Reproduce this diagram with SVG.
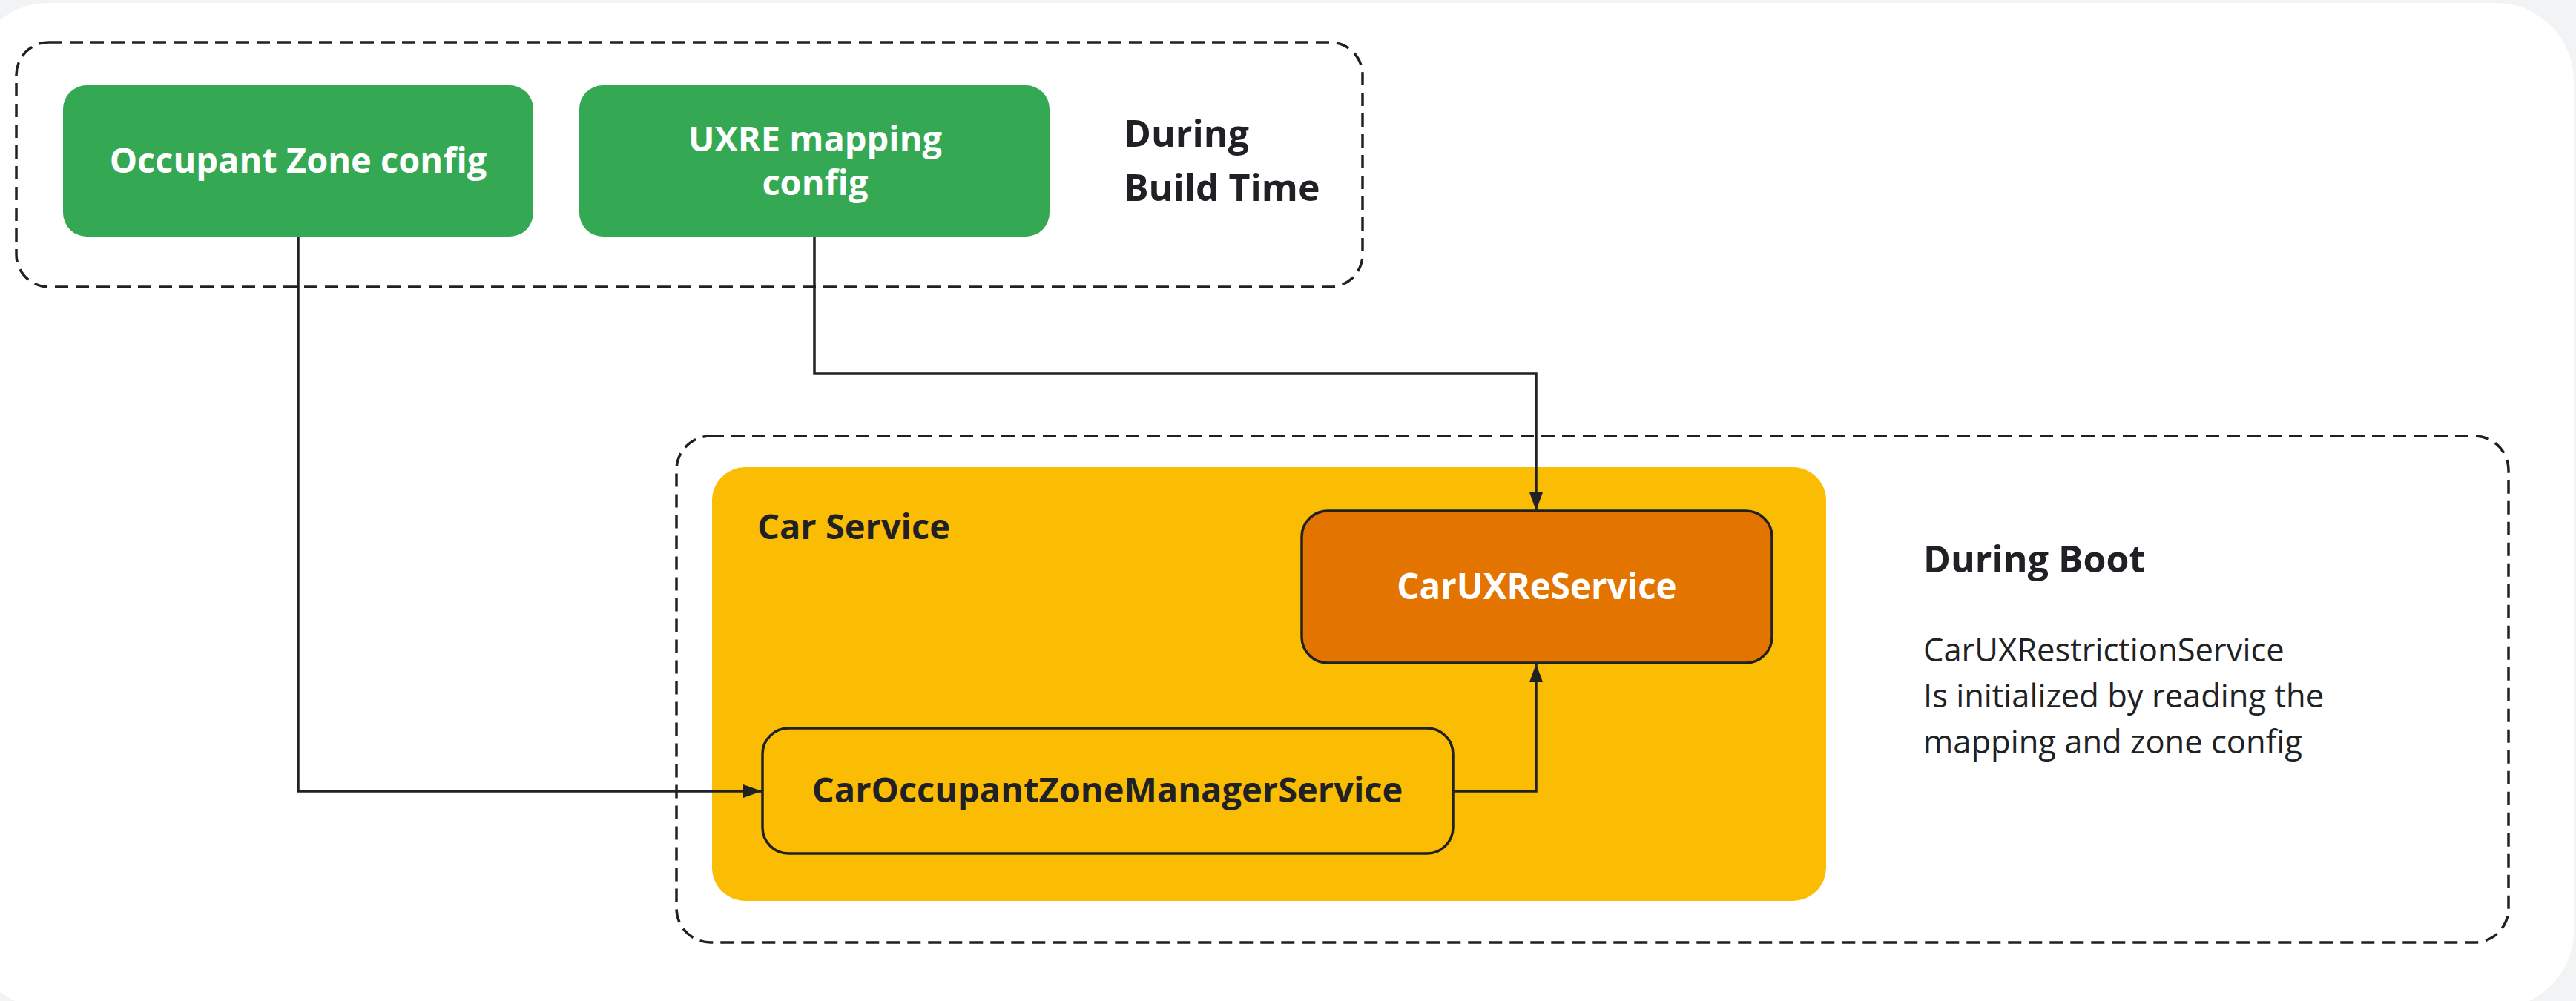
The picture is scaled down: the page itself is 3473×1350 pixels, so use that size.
<svg xmlns="http://www.w3.org/2000/svg" width="3473" height="1350" viewBox="0 0 3473 1350">
  <style>
    .zone { fill: none; stroke: #202124; stroke-width: 3.5; stroke-dasharray: 18 10; }
    .cfg { fill: #34A853; }
    .svc { stroke: #202124; stroke-width: 3.5; }
    .bold { font-family: "Open Sans", "Liberation Sans", sans-serif; font-weight: 700; }
    .reg { font-family: "Open Sans", "Liberation Sans", sans-serif; font-weight: 400; }
    .light { fill: #FFFFFF; }
    .dark { fill: #202124; }
    .wire { fill: none; stroke: #202124; stroke-width: 3.5; }
  </style>
  <defs>
    <marker id="arrow" markerUnits="userSpaceOnUse" markerWidth="26" markerHeight="20" refX="25" refY="9" orient="auto">
      <path d="M0,0 L25,9 L0,18 Z" fill="#202124"/>
    </marker>
  </defs>

  <!-- canvas -->
  <rect x="0" y="0" width="3473" height="1350" fill="#F1F3F4"/>
  <rect x="-40" y="4" width="3510" height="1356" rx="105" ry="105" fill="#FFFFFF"/>

  <!-- build-time zone -->
  <g id="build-time">
    <rect class="zone" x="22" y="57" width="1815" height="330" rx="44" ry="44"/>
    <text class="bold dark" x="1515" y="198" font-size="50">During</text>
    <text class="bold dark" x="1515" y="271" font-size="50">Build Time</text>
  </g>

  <g id="occupant-zone-config">
    <rect class="cfg" x="85" y="115" width="634" height="204" rx="32" ry="32"/>
    <text class="bold light" x="402" y="233" font-size="47" text-anchor="middle">Occupant Zone config</text>
  </g>

  <g id="uxre-mapping-config">
    <rect class="cfg" x="781" y="115" width="634" height="204" rx="32" ry="32"/>
    <text class="bold light" x="1099" y="204" font-size="47" text-anchor="middle">UXRE mapping</text>
    <text class="bold light" x="1099" y="263" font-size="47" text-anchor="middle">config</text>
  </g>

  <!-- boot zone -->
  <g id="boot">
    <rect class="zone" x="912" y="588" width="2470" height="683" rx="46" ry="46"/>
    <text class="bold dark" x="2593" y="772" font-size="50">During Boot</text>
    <text class="reg dark" x="2593" y="892" font-size="43.5">CarUXRestrictionService</text>
    <text class="reg dark" x="2593" y="954" font-size="43.5">Is initialized by reading the</text>
    <text class="reg dark" x="2593" y="1016" font-size="43.5">mapping and zone config</text>
  </g>

  <g id="car-service">
    <rect x="960" y="630" width="1502" height="585" rx="45" ry="45" fill="#FBBC04"/>
    <text class="bold dark" x="1021" y="727" font-size="47">Car Service</text>
  </g>

  <g id="car-uxre-service">
    <rect class="svc" x="1755" y="689" width="634" height="205" rx="35" ry="35" fill="#E37400"/>
    <text class="bold light" x="2072" y="808" font-size="47.5" text-anchor="middle">CarUXReService</text>
  </g>

  <g id="car-occupant-zone-manager-service">
    <rect class="svc" x="1028" y="982" width="931" height="169" rx="35" ry="35" fill="#FBBC04"/>
    <text class="bold dark" x="1493" y="1082" font-size="47" text-anchor="middle">CarOccupantZoneManagerService</text>
  </g>

  <!-- connectors -->
  <g id="connectors">
    <path class="wire" d="M402,319 V1067 H1027" marker-end="url(#arrow)"/>
    <path class="wire" d="M1098,319 V504 H2071 V689" marker-end="url(#arrow)"/>
    <path class="wire" d="M1959,1067 H2071 V895" marker-end="url(#arrow)"/>
  </g>
</svg>
